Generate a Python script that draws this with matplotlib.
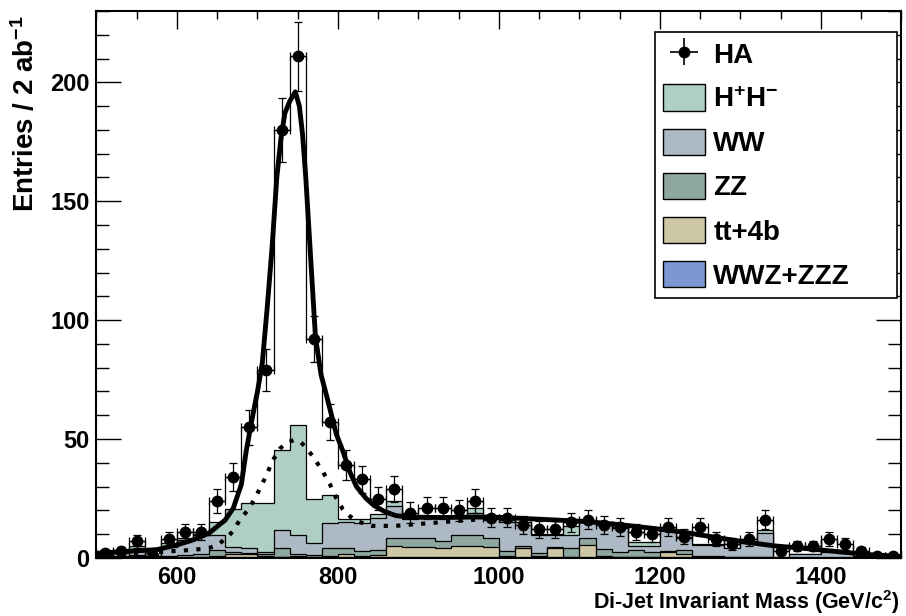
import numpy as np
import matplotlib
matplotlib.use("Agg")
import matplotlib.pyplot as plt
from matplotlib.patches import Patch
from matplotlib.ticker import MultipleLocator

plt.rcParams['font.family'] = ['Liberation Sans', 'DejaVu Sans']
plt.rcParams['font.weight'] = 'bold'
plt.rcParams['axes.labelweight'] = 'bold'
plt.rcParams['mathtext.fontset'] = 'custom'
plt.rcParams['mathtext.rm'] = 'Liberation Sans:bold'
plt.rcParams['mathtext.it'] = 'Liberation Sans:bold'
plt.rcParams['mathtext.bf'] = 'Liberation Sans:bold'

# 20 GeV bins, 500 - 1500
edges = np.arange(500, 1501, 20)
centers = edges[:-1] + 10

# HA sample (points with errors)
ha = [2, 3, 7, 1, 8, 11, 11, 24, 34, 55,
      79, 180, 211, 92, 57, 39, 33, 25, 29, 19,
      21, 21, 20, 24, 17, 17, 14, 12, 12, 15,
      16, 14, 13, 11, 10, 13, 9, 13, 8, 6,
      8, 16, 3, 5, 5, 8, 6, 3, 1, 1]

# stacked backgrounds (bottom -> top)
wwz = [0, 0, 0, 0, 0, 0, 0, 0.2, 0.2, 0.2,
       0.2, 0.2, 0.2, 0.2, 0.2, 0.2, 0.2, 0.2, 0.3, 0.3,
       0.3, 0.3, 0.5, 0.3, 0.3, 0.2, 0.2, 0.2, 0.2, 0.2,
       0.2, 0.2, 0.2, 0.2, 0.2, 0.2, 0.2, 0, 0, 0,
       0, 0, 0, 0, 0, 0, 0, 0, 0, 0]
tt4b = [0.5, 0.5, 1.0, 0.3, 0.5, 0.5, 0.5, 0.6, 1.3, 1.3,
        0.8, 0.3, 0.6, 0.3, 0.6, 1.3, 0.8, 1.0, 4.7, 4.5,
        4.5, 3.9, 4.5, 4.7, 4.2, 0.6, 3.8, 0.8, 3.8, 0.1,
        5.3, 0.8, 0.3, 0.3, 0.3, 2.4, 1.3, 0.3, 0.3, 0.2,
        0.2, 0.2, 0, 0.1, 0.1, 0.1, 0.1, 0, 0, 0]
zz = [0.3, 0.2, 0.3, 0.1, 0.5, 0.7, 1.0, 2.6, 1.0, 0.5,
      0.5, 3.8, 0.7, 0.7, 3.5, 2.8, 1.8, 2.1, 3.3, 3.5,
      3.5, 2.8, 4.7, 4.7, 3.8, 2.2, 1.0, 1.3, 0.5, 3.8,
      3.1, 2.8, 2.0, 2.7, 2.0, 0.2, 1.9, 0.5, 0.5, 0.3,
      0.3, 0.3, 0.1, 0.1, 0.2, 0.2, 0.2, 0.1, 0, 0]
ww = [1.0, 1.3, 2.5, 0.5, 3.5, 6.3, 8.0, 6.3, 2.3, 2.0,
      1.0, 7.5, 8.2, 5.3, 10.6, 11.0, 11.8, 13.7, 13.7, 8.2,
      8.4, 9.7, 7.3, 9.3, 8.7, 12.3, 10.0, 7.4, 5.2, 5.6,
      6.7, 10.2, 10.0, 1.8, 2.5, 9.2, 5.1, 4.7, 4.7, 3.5,
      5.7, 10.0, 0.2, 1.3, 1.2, 2.2, 1.7, 0.7, 0.5, 0.3]
hphm = [0.3, 0.5, 1.2, 0.1, 2.0, 1.0, 0.5, 5.3, 15.7, 19.3,
        20.8, 33.7, 46.3, 18.5, 11.6, 1.0, 1.9, 1.5, 2.0, 0.5,
        0.3, 0.5, 0.5, 2.0, 0.5, 0.5, 0.3, 0.3, 0.3, 3.8,
        0.3, 0.3, 0.3, 1.9, 1.9, 0.3, 0.3, 0.2, 0.2, 0.2,
        0.2, 1.3, 0, 0.1, 0.1, 1.0, 0.7, 0.1, 0, 0]

# fitted curves
fit_x = [500, 540, 575, 600, 620, 640, 660, 670, 680, 686, 693, 700, 706,
         712, 718, 724, 729, 734, 740, 747, 752, 756, 760, 765, 772, 779,
         786, 792, 798, 806, 815, 823, 835, 845, 858, 872, 890, 930, 960,
         990, 1050, 1110, 1150, 1190, 1230, 1270, 1310, 1345, 1380, 1420,
         1460, 1500]
fit_y = [2.0, 2.8, 3.5, 5.5, 7.6, 10.5, 16, 21, 31, 45, 58, 70, 82,
         105, 130, 160, 176, 187, 192, 196, 190, 178, 160, 132, 93, 77,
         68, 60, 52, 45, 36, 30, 25, 22, 19.5, 17.8, 17.2, 17.0, 17.2,
         17.2, 16.3, 15.3, 14.0, 12.5, 10.8, 8.6, 6.5, 5.0, 4.0, 2.7,
         1.4, 0.6]
bkg_x = [500, 554, 600, 620, 640, 650, 662, 670, 678, 690, 699, 710, 719,
         728, 736, 745, 753, 760, 769, 780, 790, 798, 806, 815, 823, 842,
         871, 912, 953, 995]
bkg_y = [1.5, 2.0, 3.0, 3.4, 4.2, 5.5, 8.4, 11.5, 16, 21, 26.5, 34, 41,
         46, 48.5, 49.5, 49, 46.5, 42.6, 37, 31, 25, 20.5, 17.5, 15.5,
         13.5, 13.5, 14.6, 15.7, 16.7]

labels = ['WWZ+ZZZ', 'tt+4b', 'ZZ', 'WW', r'H$^{+}$H$^{-}$']
colors = ['#7b98d2', '#cdc7a6', '#8ea89f', '#adbac6', '#afcfc4']

fig = plt.figure(figsize=(9.06, 6.16), dpi=100)
ax = fig.add_axes([0.1065, 0.0942, 0.8885, 0.8880])

# HA outline histogram
ax.stairs(ha, edges, fill=True, facecolor='white', edgecolor='k', lw=0.9, zorder=1)

stack = np.cumsum(np.vstack([wwz, tt4b, zz, ww, hphm]), axis=0)
for i in reversed(range(len(labels))):
    ax.stairs(stack[i], edges, fill=True, facecolor=colors[i],
              edgecolor='k', lw=0.9, zorder=2)

ax.plot(bkg_x, bkg_y, color='k', lw=3, ls=(0, (1, 2)), zorder=4)
ax.plot(fit_x, fit_y, color='k', lw=3.5, zorder=4)

ax.errorbar(centers, ha, yerr=np.sqrt(ha), xerr=10, fmt='o', color='k',
            ms=7.5, elinewidth=0.9, capsize=3, capthick=0.9, zorder=5)
# legend entry for HA without caps
ha_handle = ax.errorbar([np.nan], [np.nan], yerr=[1], xerr=[1], fmt='o',
                        color='k', ms=7.5, elinewidth=1.2, capsize=0)

ax.set_xlim(500, 1500)
ax.set_ylim(0, 230)
ax.xaxis.set_major_locator(MultipleLocator(200))
ax.xaxis.set_minor_locator(MultipleLocator(50))
ax.yaxis.set_major_locator(MultipleLocator(50))
ax.yaxis.set_minor_locator(MultipleLocator(10))
ax.tick_params(which='both', direction='in', top=True, right=True,
               labelsize=17, width=1)
ax.tick_params(axis='x', which='major', length=13, pad=6)
ax.tick_params(axis='x', which='minor', length=6)
ax.tick_params(axis='y', which='major', length=18, pad=5)
ax.tick_params(axis='y', which='minor', length=9.5)
for s in ax.spines.values():
    s.set_linewidth(1.5)

ax.set_xlabel(r'Di-Jet Invariant Mass (GeV/c$^{2}$)', fontsize=15.5, loc='right')
ax.xaxis.set_label_coords(0.997, -0.055)
ax.set_ylabel(r'Entries / 2 ab$^{-1}$', fontsize=20, loc='top')
ax.yaxis.set_label_coords(-0.07, 0.993)

handles = [ha_handle] + [Patch(facecolor=colors[i], edgecolor='k', lw=1)
                         for i in reversed(range(len(labels)))]
names = ['HA'] + labels[::-1]
leg = ax.legend(handles, names, loc='upper left',
                bbox_to_anchor=(0.6938, 0.4, 0.3006, 0.5616), mode='expand',
                borderaxespad=0, fontsize=20, fancybox=False, framealpha=1,
                edgecolor='k', handlelength=1.5, handleheight=1.08,
                labelspacing=0.56, handletextpad=0.3, borderpad=0.3)
leg.get_frame().set_linewidth(1.2)

fig.savefig('out.png', dpi=100)
